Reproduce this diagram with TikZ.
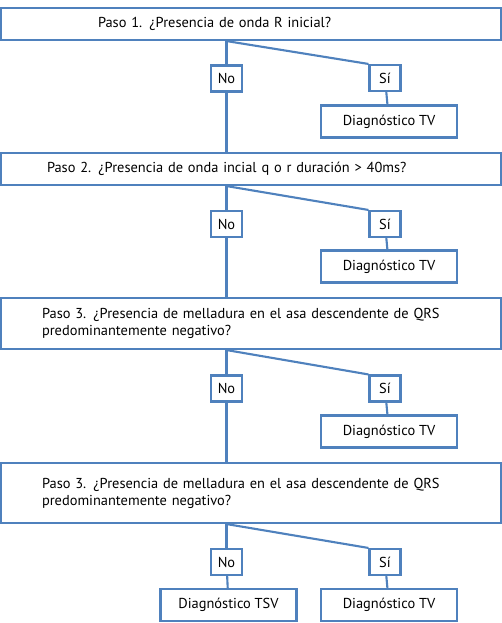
\documentclass[tikz,border=0pt]{standalone}
\usepackage{fontspec}
\setmainfont{PT Sans}
\usepackage{xcolor}
\usepackage{tikz}
\definecolor{azul}{HTML}{4F81BD}

\begin{document}
\begin{tikzpicture}[x=0.02cm, y=-0.02cm,
        font=\fontsize{8.2pt}{9.7pt}\selectfont,
        every node/.style={draw=azul, line width=1.2pt, inner sep=0pt},
        paso/.style={minimum width=10cm, align=left},
        opcion/.style={minimum width=0.62cm, minimum height=0.52cm},
        diag/.style={minimum width=2.72cm, minimum height=0.64cm},
        linea/.style={draw=azul, line width=1.2pt}]
        \useasboundingbox (0,0) rectangle (502,623);

        \node[paso, minimum height=0.64cm, inner xsep=1.94cm, text width=6.12cm] (P1) at (251,24)
          {Paso 1. ¿Presencia de onda R inicial?};
        \node[opcion] (N1) at (226.5,78.5) {No};
        \node[opcion] (S1) at (385,78) {Sí};
        \node[diag] (D1) at (389,121.5) {Diagnóstico TV};

        \node[paso, minimum height=0.64cm, inner xsep=0.92cm, text width=8.16cm] (P2) at (251,169)
          {Paso 2. ¿Presencia de onda incial q o r duración > 40ms?};
        \node[opcion] (N2) at (226.5,224) {No};
        \node[opcion] (S2) at (385,224) {Sí};
        \node[diag] (D2) at (389,266.5) {Diagnóstico TV};

        \node[paso, minimum height=1.02cm, inner xsep=0.82cm, text width=8.36cm] (P3) at (251,323.5)
          {Paso 3. ¿Presencia de melladura en el asa descendente de QRS\\
           predominantemente negativo?};
        \node[opcion] (N3) at (226.5,388.5) {No};
        \node[opcion] (S3) at (385,388.5) {Sí};
        \node[diag] (D3) at (389,431.5) {Diagnóstico TV};

        \node[paso, minimum height=1.2cm, inner xsep=0.82cm, text width=8.36cm] (P4) at (251,493)
          {Paso 3. ¿Presencia de melladura en el asa descendente de QRS\\
           predominantemente negativo?};
        \node[opcion] (N4) at (226.5,562) {No};
        \node[opcion] (S4) at (385,562) {Sí};
        \node[diag] (T4) at (228.5,605) {Diagnóstico TSV};
        \node[diag] (D4) at (389,605) {Diagnóstico TV};

        \draw[linea] (N1 |- P1.south) -- (N1.north);
        \draw[linea] (N1 |- P1.south) -- (S1.north west);
        \draw[linea] (S1) -- (D1);
        \draw[linea] (N1.south) -- (N1 |- P2.north);

        \draw[linea] (N2 |- P2.south) -- (N2.north);
        \draw[linea] (N2 |- P2.south) -- (S2.north west);
        \draw[linea] (S2) -- (D2);
        \draw[linea] (N2.south) -- (N2 |- P3.north);

        \draw[linea] (N3 |- P3.south) -- (N3.north);
        \draw[linea] (N3 |- P3.south) -- (S3.north west);
        \draw[linea] (S3) -- (D3);
        \draw[linea] (N3.south) -- (N3 |- P4.north);

        \draw[linea] (N4 |- P4.south) -- (N4.north);
        \draw[linea] (N4 |- P4.south) -- (S4.north west);
        \draw[linea] (S4) -- (D4);
        \draw[linea] (N4) -- (T4);
      \end{tikzpicture}
\end{document}
